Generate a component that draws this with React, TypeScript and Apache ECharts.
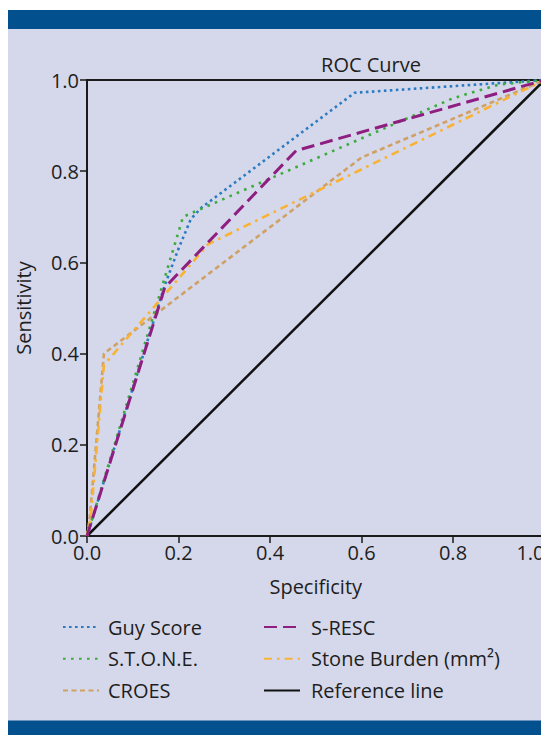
import React, { useEffect, useRef } from "react";
import * as echarts from "echarts";

const FONT = '"Open Sans", "Noto Sans", sans-serif';

// ROC curve points: [1 - specificity (shown as "Specificity"), sensitivity]
const guyScore: [number, number][] = [
  [0, 0], [0.17, 0.55], [0.2, 0.63], [0.227, 0.695], [0.25, 0.72], [0.585, 0.972], [1, 1],
];
const stoneScore: [number, number][] = [
  [0, 0], [0.21, 0.7], [0.8, 0.96], [0.9, 0.99], [1, 1],
];
const croes: [number, number][] = [
  [0, 0], [0.006, 0.04], [0.037, 0.4], [0.6, 0.83], [1, 1],
];
const stoneBurden: [number, number][] = [
  [0, 0], [0.008, 0.04], [0.037, 0.375], [0.265, 0.64], [1, 1],
];
const sResc: [number, number][] = [
  [0, 0], [0.17, 0.545], [0.457, 0.845], [1, 1],
];
const referenceLine: [number, number][] = [
  [0, 0], [1, 1],
];

const leftLegend = ["Guy Score", "S.T.O.N.E.", "CROES"];
const rightLegend = ["S-RESC", "Stone Burden (mm²)", "Reference line"];

export default function App() {
  const ref = useRef<HTMLDivElement>(null);
  useEffect(() => {
    const chart = echarts.init(ref.current!, null, { renderer: "svg" });
    const axisCommon = {
      type: "value" as const,
      min: 0,
      max: 1,
      interval: 0.2,
      axisLine: { show: true, lineStyle: { color: "#1a1a1a", width: 2 } },
      axisTick: { show: true, inside: false, length: 7, lineStyle: { color: "#1a1a1a", width: 1.5 } },
      splitLine: { show: false },
      nameLocation: "middle" as const,
      nameTextStyle: { fontSize: 20, color: "#1e1e1e", fontFamily: FONT },
    };
    const legendCommon = {
      orient: "vertical" as const,
      top: 617,
      padding: 0,
      itemWidth: 36,
      itemHeight: 14,
      itemGap: 11.7,
      selectedMode: false,
      itemStyle: { color: "transparent", borderColor: "transparent", borderWidth: 0 },
    };
    chart.setOption({
      animation: false,
      backgroundColor: "#ffffff",
      graphic: [
        { type: "rect", z: -10, silent: true, shape: { x: 8, y: 10, width: 533, height: 725 }, style: { fill: "#d5d8ea" } },
        { type: "rect", z: -9, silent: true, shape: { x: 8, y: 10, width: 533, height: 19 }, style: { fill: "#02518e" } },
        { type: "rect", z: -9, silent: true, shape: { x: 8, y: 720.5, width: 533, height: 15 }, style: { fill: "#02518e" } },
        {
          type: "text",
          x: 371,
          y: 64,
          style: { text: "ROC Curve", align: "center", verticalAlign: "middle", fontSize: 20, fontFamily: FONT, fill: "#1e1e1e" },
        },
      ],
      grid: {
        left: 87,
        top: 80,
        width: 457.5,
        height: 456,
        show: true,
        borderColor: "#1a1a1a",
        borderWidth: 2,
        backgroundColor: "transparent",
        containLabel: false,
        outerBoundsMode: "none",
      },
      xAxis: {
        ...axisCommon,
        name: "Specificity",
        nameGap: 40,
        axisLabel: {
          show: true,
          margin: 6,
          fontSize: 20,
          color: "#1e1e1e",
          fontFamily: FONT,
          showMaxLabel: true,
          showMinLabel: true,
          alignMaxLabel: "right",
          formatter: (v: number) => v.toFixed(1),
        },
      },
      yAxis: {
        ...axisCommon,
        name: "Sensitivity",
        nameGap: 54,
        axisLabel: {
          show: true,
          margin: 8,
          fontSize: 20,
          color: "#1e1e1e",
          fontFamily: FONT,
          showMaxLabel: true,
          showMinLabel: true,
          formatter: (v: number) => v.toFixed(1),
        },
      },
      legend: [
        {
          ...legendCommon,
          left: 62,
          data: leftLegend,
          textStyle: { fontSize: 20, lineHeight: 20, color: "#1e1e1e", fontFamily: FONT, padding: [0, 0, 0, 4] },
        },
        {
          ...legendCommon,
          left: 263,
          data: rightLegend,
          textStyle: { fontSize: 20, lineHeight: 20, color: "#1e1e1e", fontFamily: FONT, padding: [0, 0, 0, 6] },
        },
      ],
      series: [
        {
          name: "Reference line",
          type: "line",
          data: referenceLine,
          symbol: "none",
          z: 2,
          itemStyle: { color: "#111111" },
          lineStyle: { color: "#111111", width: 2.5, type: "solid" },
        },
        {
          name: "Guy Score",
          type: "line",
          data: guyScore,
          symbol: "none",
          z: 3,
          itemStyle: { color: "#2a7bc2" },
          lineStyle: { color: "#2a7bc2", width: 2.6, type: [2.6, 3.4], cap: "butt" },
        },
        {
          name: "S.T.O.N.E.",
          type: "line",
          data: stoneScore,
          symbol: "none",
          z: 4,
          itemStyle: { color: "#3aab3c" },
          lineStyle: { color: "#3aab3c", width: 2.6, type: [2.6, 5.4], cap: "butt" },
        },
        {
          name: "CROES",
          type: "line",
          data: croes,
          symbol: "none",
          z: 5,
          itemStyle: { color: "#cfa165" },
          lineStyle: { color: "#cfa165", width: 2.6, type: [5, 3.5], cap: "butt" },
        },
        {
          name: "Stone Burden (mm²)",
          type: "line",
          data: stoneBurden,
          symbol: "none",
          z: 6,
          itemStyle: { color: "#f9b234" },
          lineStyle: { color: "#f9b234", width: 2.6, type: [8, 5, 2.6, 5], cap: "butt" },
        },
        {
          name: "S-RESC",
          type: "line",
          data: sResc,
          symbol: "none",
          z: 7,
          itemStyle: { color: "#8e1e80" },
          lineStyle: { color: "#8e1e80", width: 3, type: [13, 6], cap: "butt" },
        },
      ],
    });
    return () => chart.dispose();
  }, []);
  return (
    <div
      ref={ref}
      style={{ position: "fixed", left: 0, top: 0, width: 541, height: 735, background: "#ffffff" }}
    />
  );
}
